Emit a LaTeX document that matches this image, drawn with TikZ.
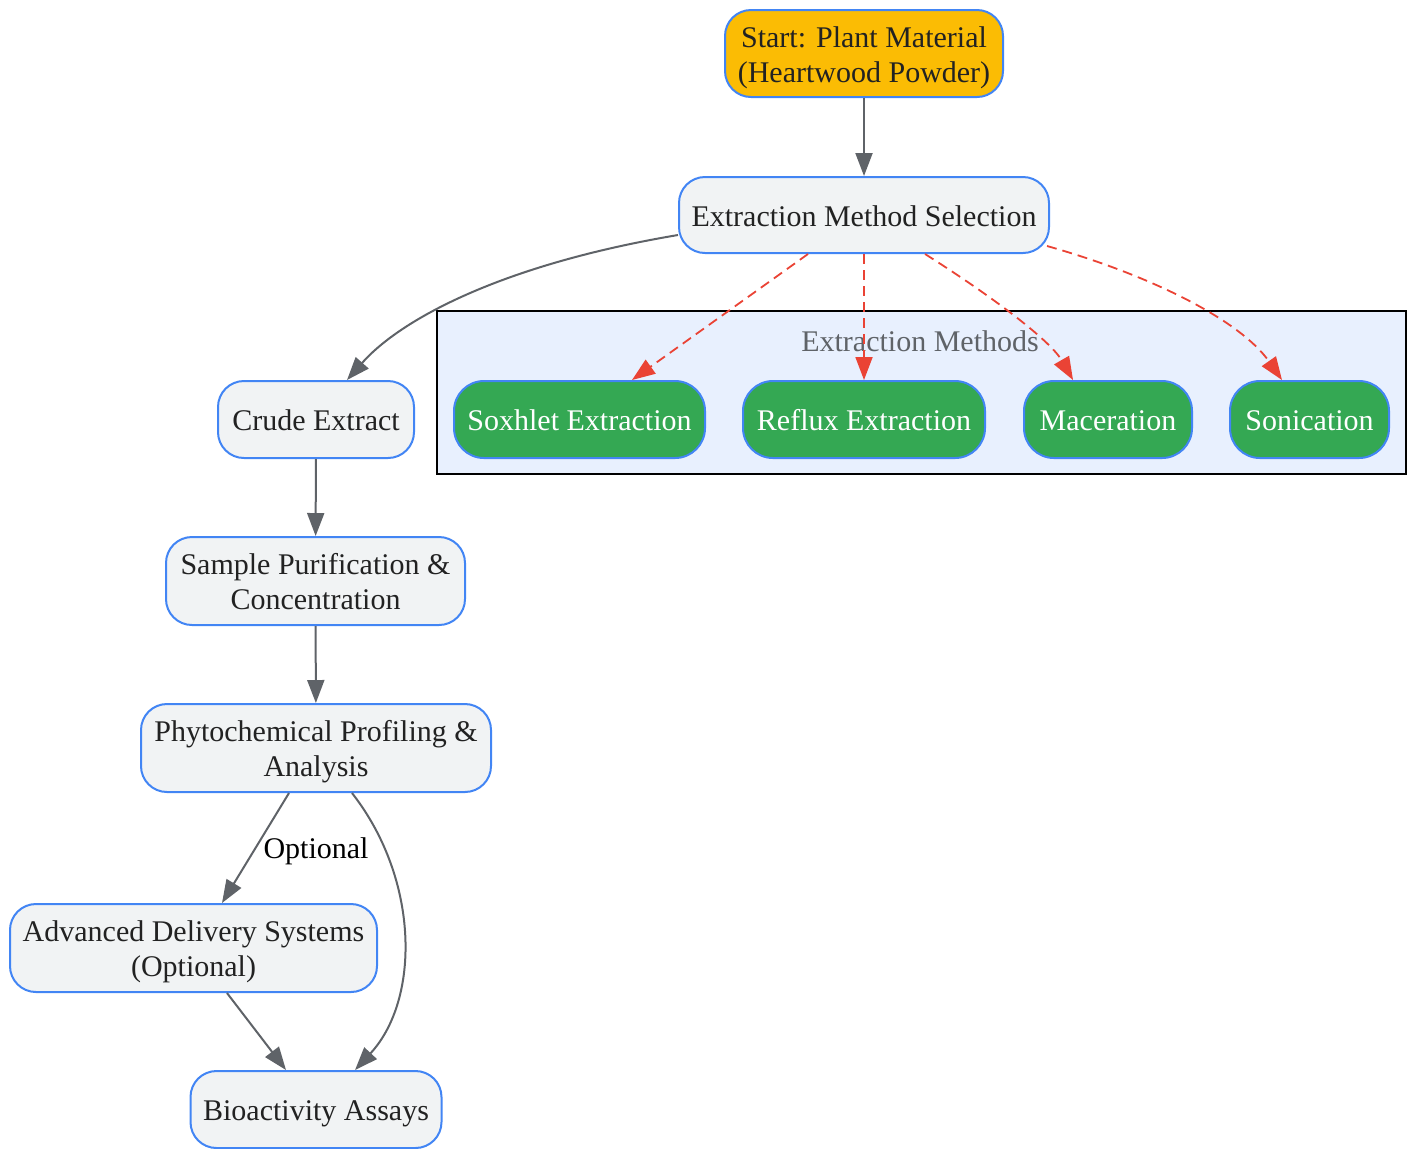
\documentclass[tikz,border=0pt]{standalone}
\usepackage{fontspec}
\setmainfont{Liberation Serif}
\usetikzlibrary{arrows.meta}
\definecolor{nodeborder}{HTML}{4285F4}
\definecolor{startfill}{HTML}{FBBC04}
\definecolor{grayfill}{HTML}{F1F3F4}
\definecolor{greenfill}{HTML}{34A853}
\definecolor{clusterfill}{HTML}{E8F0FE}
\definecolor{edgegray}{HTML}{5F6368}
\definecolor{edgered}{HTML}{EA4335}
\definecolor{textdark}{HTML}{222222}
\definecolor{titlegray}{HTML}{5F6368}
\newcommand\boxtext[1]{\raisebox{-2pt}[\height][\depth]{\begin{tabular}{@{}c@{}}#1\end{tabular}}}
\tikzset{
  txt/.style={font=\fontsize{15}{17.5}\selectfont},
  base/.style={draw=nodeborder, line width=1pt, rounded corners=13pt, inner sep=0pt, txt},
  startbox/.style={base, fill=startfill, text=textdark},
  graybox/.style={base, fill=grayfill, text=textdark},
  greenbox/.style={base, fill=greenfill, text=white, rounded corners=15pt},
  flow/.style={draw=edgegray, line width=1pt, -{Triangle[length=11.5pt,width=8.5pt,fill=edgegray]}},
  redflow/.style={draw=edgered, line width=0.9pt, dash pattern=on 5pt off 3pt,
    -{Triangle[length=11.5pt,width=8.5pt,fill=edgered]}},
}
\begin{document}
\begin{tikzpicture}[x=0.5pt,y=-0.5pt]
\useasboundingbox (0,0) rectangle (1412,1148);
% cluster
\node[draw=black, line width=1pt, fill=clusterfill, minimum width=484.5pt, minimum height=81.5pt, inner sep=0pt] (cluster) at (921.5,392.5) {};
\node[text=titlegray, txt] (ctitle) at (920,341) {Extraction Methods};
% nodes
\node[startbox, minimum width=139pt, minimum height=43.5pt] (start) at (864,53.5) {\boxtext{Start: Plant Material\\(Heartwood Powder)}};
\node[graybox, minimum width=185pt, minimum height=38pt] (sel) at (864,215) {\boxtext{Extraction Method Selection}};
\node[greenbox, minimum width=125.5pt, minimum height=38.5pt] (sox) at (579.5,419.5) {\boxtext{Soxhlet Extraction}};
\node[greenbox, minimum width=121pt, minimum height=38.5pt] (ref) at (864,419.5) {\boxtext{Reflux Extraction}};
\node[greenbox, minimum width=84pt, minimum height=38.5pt] (mac) at (1108,419.5) {\boxtext{Maceration}};
\node[greenbox, minimum width=79.5pt, minimum height=38.5pt] (son) at (1309.5,419.5) {\boxtext{Sonication}};
\node[graybox, minimum width=98pt, minimum height=38.5pt] (crude) at (316,419.5) {\boxtext{Crude Extract}};
\node[graybox, minimum width=149.5pt, minimum height=44pt] (pur) at (315.5,581) {\boxtext{Sample Purification \&\\Concentration}};
\node[graybox, minimum width=175pt, minimum height=44pt] (phy) at (316,748) {\boxtext{Phytochemical Profiling \&\\Analysis}};
\node[graybox, minimum width=183.5pt, minimum height=44pt] (adv) at (193.5,948) {\boxtext{Advanced Delivery Systems\\(Optional)}};
\node[graybox, minimum width=125.5pt, minimum height=38.5pt] (bio) at (316,1109.5) {\boxtext{Bioactivity Assays}};
% edges
\draw[flow] (start) -- (sel);
\draw[flow] ([shift={(0,20)}]sel.west) .. controls (500,265) and (400,320) .. ([shift={(31,0)}]crude.north);
\draw[redflow] ([shift={(-56,0)}]sel.south) -- ([shift={(52.5,0)}]sox.north);
\draw[redflow] (sel.south) -- (ref.north);
\draw[redflow] ([shift={(61,0)}]sel.south) .. controls (990,295) and (1050,340) .. ([shift={(-35,0)}]mac.north);
\draw[redflow] ([shift={(-3,31)}]sel.east) .. controls (1150,275) and (1240,320) .. ([shift={(-27.5,0)}]son.north);
\draw[flow] (crude) -- (pur);
\draw[flow] (pur) -- (phy);
\draw[flow] ([shift={(-27,0)}]phy.south) -- ([shift={(28.5,0)}]adv.north);
\draw[flow] ([shift={(36,0)}]phy.south) .. controls (420,880) and (420,1000) .. ([shift={(39,0)}]bio.north);
\draw[flow] ([shift={(33.5,0)}]adv.south) -- ([shift={(-30,0)}]bio.north);
\node[text=black, txt] (optlabel) at (316,851) {Optional};
\end{tikzpicture}
\end{document}
